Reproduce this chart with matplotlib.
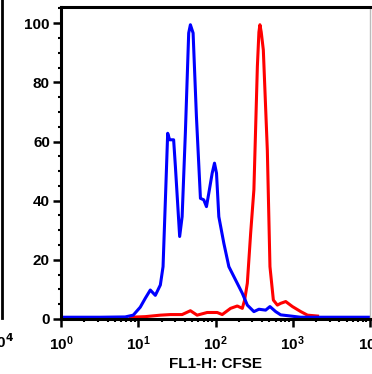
import numpy as np
import matplotlib.pyplot as plt
from matplotlib.ticker import LogLocator, MultipleLocator, FixedLocator
from matplotlib.lines import Line2D

plt.rcParams['font.family'] = ['Liberation Sans', 'DejaVu Sans']
plt.rcParams['font.weight'] = 'bold'
plt.rcParams['mathtext.default'] = 'bf'

# log10(FL1-H) positions and % of max counts
blue_log = [0.0, 0.506, 0.831, 0.935, 1.026, 1.091, 1.156, 1.221, 1.286, 1.321,
            1.351, 1.381, 1.406, 1.458, 1.481, 1.536, 1.568, 1.610, 1.653, 1.675,
            1.710, 1.753, 1.805, 1.848, 1.883, 1.913, 1.957, 1.987, 2.013, 2.043,
            2.108, 2.173, 2.260, 2.347, 2.412, 2.497, 2.562, 2.649, 2.705, 2.779,
            2.844, 2.974, 3.10, 4.0]
blue_val = [0.6, 0.6, 0.7, 1.3, 4.0, 7.0, 9.8, 8.0, 11.5, 17.7,
            40.0, 62.8, 60.6, 60.6, 51.5, 27.9, 34.6, 63.0, 96.7, 99.5,
            96.7, 68.5, 40.8, 40.3, 38.0, 42.5, 49.3, 52.7, 49.3, 34.6,
            25.6, 17.7, 13.2, 8.7, 4.7, 2.5, 3.3, 3.0, 4.2, 2.5,
            1.4, 1.0, 0.6, 0.6]

red_log = [0.896, 1.091, 1.286, 1.416, 1.568, 1.675, 1.762, 1.892, 2.022, 2.087,
           2.195, 2.282, 2.347, 2.377, 2.412, 2.455, 2.497, 2.542, 2.562, 2.575,
           2.592, 2.619, 2.671, 2.705, 2.749, 2.801, 2.844, 2.909, 2.996, 3.104,
           3.191, 3.321]
red_val = [0.6, 0.8, 1.3, 1.5, 1.5, 2.8, 1.3, 2.2, 2.2, 1.5,
           3.6, 4.4, 3.6, 6.4, 12.1, 29.0, 43.7, 85.4, 97.0, 99.5,
           97.0, 91.0, 57.0, 17.7, 6.4, 4.7, 5.3, 5.9, 4.2, 2.5,
           1.3, 1.0]

fig = plt.figure(figsize=(3.72, 3.74), dpi=100)
ax = fig.add_axes([61/372, 55/374, 309/372, 312/374])

ax.plot(np.power(10.0, red_log), red_val, color='#ff0000', lw=2.2)
ax.plot(np.power(10.0, blue_log), blue_val, color='#0000ff', lw=2.2)

ax.set_xscale('log')
ax.set_xlim(1, 1e4)
ax.set_ylim(0, 105.5)

ax.xaxis.set_major_locator(FixedLocator([1, 10, 100, 1000, 10000]))
ax.xaxis.set_minor_locator(LogLocator(base=10, subs=np.arange(2, 10)))
ax.yaxis.set_major_locator(MultipleLocator(20))
ax.yaxis.set_minor_locator(MultipleLocator(5))

ax.tick_params(which='major', direction='out', length=6, width=1.8, labelsize=11, pad=2)
ax.tick_params(axis='x', which='major', pad=5)
ax.tick_params(which='minor', direction='out', length=2.5, width=1.5)

for s in ['left', 'bottom', 'top']:
    ax.spines[s].set_linewidth(2.2)
ax.spines['right'].set_color('#bbbbbb')
ax.spines['right'].set_linewidth(1)

ax.set_xlabel('FL1-H: CFSE', fontsize=11, fontweight='bold', labelpad=3)

# remnants of the neighbouring panel at the left edge
fig.add_artist(Line2D([2/372, 2/372], [56/374, 1.0], color='black', lw=2))
fig.text(14/372, 32/374, '10$^4$', ha='right', va='center', fontsize=11)

fig.savefig('out.png', dpi=100)
